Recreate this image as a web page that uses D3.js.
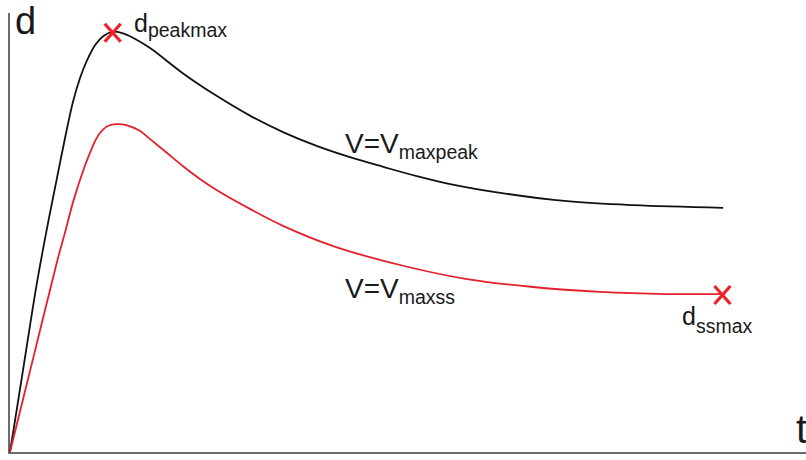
<!DOCTYPE html>
<html>
<head>
<meta charset="utf-8">
<script src="https://cdn.jsdelivr.net/npm/d3@7"></script>
<style>
  html, body { margin: 0; padding: 0; background: #fff; }
  svg { display: block; font-family: "Liberation Sans", Arial, sans-serif; }
</style>
</head>
<body>
<svg id="chart" width="806" height="460"></svg>
<script>
// Time samples (arbitrary units) and displacement for the two velocity cases
const tPeak = [0, 1.6, 3.4, 4.9, 6.4, 7.9, 8.8, 9.7, 10.7, 11.7, 12.9, 14.1, 15.5, 17.6, 21.7, 26.0, 30.2, 34.3, 38.6, 42.7, 46.9, 51.1, 55.3, 61.6, 70.0, 78.3, 89.6];
const dPeak = [0, 18.2, 38.6, 53.2, 66.8, 79.5, 85.0, 89.1, 92.5, 94.5, 95.5, 95.2, 94.1, 91.8, 86.1, 80.9, 76.4, 72.7, 69.5, 67.0, 64.8, 62.7, 60.9, 58.9, 57.0, 56.1, 55.5];

const tSS = [0, 3.1, 5.9, 6.9, 8.0, 9.3, 10.1, 10.7, 11.3, 12.3, 13.4, 14.6, 16.3, 17.6, 19.7, 21.7, 23.9, 26.0, 30.2, 34.3, 40.6, 49.0, 57.4, 65.7, 74.1, 82.5, 89.5];
const dSS = [0, 22.7, 43.2, 49.8, 57.3, 64.5, 68.2, 70.7, 72.5, 74.1, 74.5, 74.3, 73.0, 71.1, 68.0, 65.0, 62.0, 59.5, 55.2, 51.4, 46.8, 42.5, 39.3, 37.5, 36.4, 35.9, 35.9];

// Marked points: peak of the upper curve, end of the lower curve
const markPeak = { t: 12.9, d: 95.5 };
const markSS = { t: 89.5, d: 35.9 };

const svg = d3.select("#chart");
const x = d3.scaleLinear().domain([0, 100]).range([10, 806]);
const y = d3.scaleLinear().domain([0, 100]).range([452, 12]);

// Axes: plain lines without ticks
svg.append("line")
  .attr("x1", x(0) - 1).attr("x2", x(0) - 1)
  .attr("y1", y(0) + 1).attr("y2", y(100) + 1)
  .attr("stroke", "#6b6b6b").attr("stroke-width", 2);
svg.append("line")
  .attr("x1", x(0) - 2).attr("x2", x(100))
  .attr("y1", y(0) + 1).attr("y2", y(0) + 1)
  .attr("stroke", "#6b6b6b").attr("stroke-width", 2);

const line = d3.line()
  .x(p => x(p[0]))
  .y(p => y(p[1]))
  .curve(d3.curveCatmullRom.alpha(0.5));

svg.append("path")
  .datum(d3.zip(tPeak, dPeak))
  .attr("d", line)
  .attr("fill", "none")
  .attr("stroke", "#111")
  .attr("stroke-width", 1.8);

svg.append("path")
  .datum(d3.zip(tSS, dSS))
  .attr("d", line)
  .attr("fill", "none")
  .attr("stroke", "#e3202b")
  .attr("stroke-width", 1.8);

// Cross markers
function cross(p) {
  const cx = x(p.t), cy = y(p.d) + 1, h = 8;
  const g = svg.append("g").attr("stroke", "#f0202a").attr("stroke-width", 3.2);
  g.append("line").attr("x1", cx - h).attr("y1", cy - h - 1).attr("x2", cx + h).attr("y2", cy + h + 1);
  g.append("line").attr("x1", cx + h).attr("y1", cy - h - 1).attr("x2", cx - h).attr("y2", cy + h + 1);
}
cross(markPeak);
cross(markSS);

// Labels with subscripts
function label(px, py, main, sub, size, subSize, subShift) {
  const t = svg.append("text").attr("x", px).attr("y", py)
    .attr("fill", "#1a1a1a").attr("font-size", size);
  t.append("tspan").text(main);
  if (sub) {
    t.append("tspan").attr("font-size", subSize).attr("dy", subShift).text(sub);
  }
}

label(15, 34, "d", null, 38);
label(796, 443, "t", null, 40);
label(134, 32, "d", "peakmax", 25, 19.5, 5);
label(345, 153, "V=V", "maxpeak", 28, 19.5, 6);
label(345, 298, "V=V", "maxss", 28, 19.5, 6);
label(682, 325, "d", "ssmax", 25, 19.5, 8);
</script>
</body>
</html>
